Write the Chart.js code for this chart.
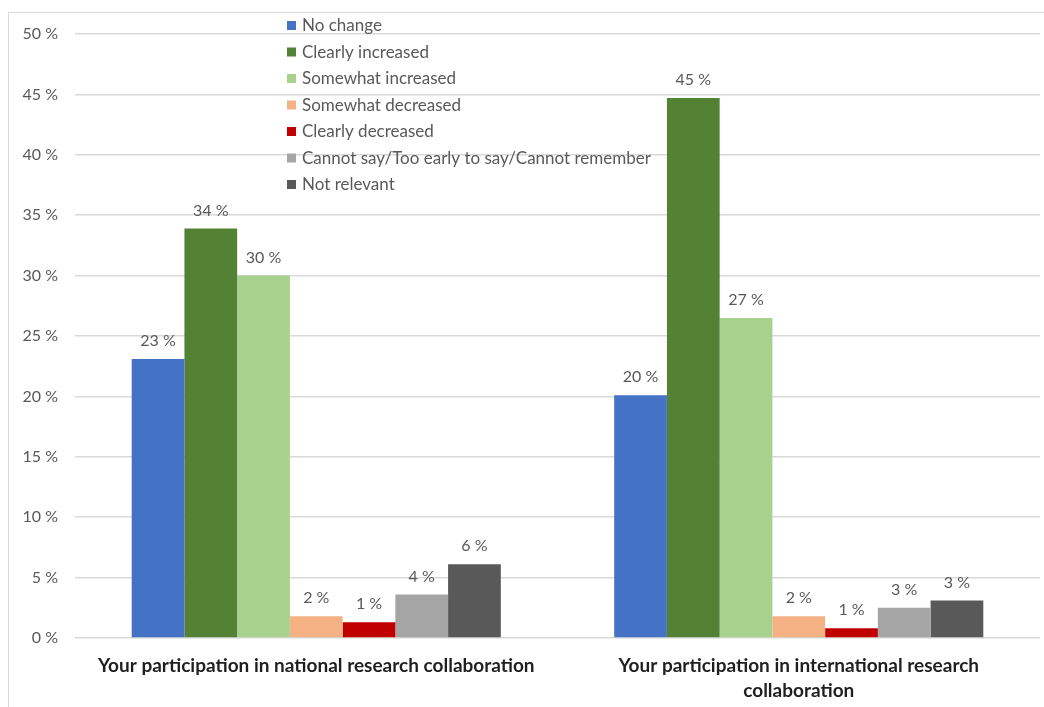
<!DOCTYPE html>
<html>
<head>
<meta charset="utf-8">
<script src="https://cdn.jsdelivr.net/npm/chart.js@4.4.1/dist/chart.umd.min.js"></script>
<style>
  html, body { margin: 0; padding: 0; background: #fff; }
  #wrap { width: 1044px; height: 707px; }
</style>
</head>
<body>
<div id="wrap"><canvas id="chart"></canvas></div>
<script>
var categories = [
  "Your participation in national research collaboration",
  ["Your participation in international research", "collaboration"]
];
var seriesNames = [
  "No change",
  "Clearly increased",
  "Somewhat increased",
  "Somewhat decreased",
  "Clearly decreased",
  "Cannot say/Too early to say/Cannot remember",
  "Not relevant"
];
var noChange = [23.1, 20.1];
var clearlyIncreased = [33.9, 44.7];
var somewhatIncreased = [30.0, 26.5];
var somewhatDecreased = [1.8, 1.8];
var clearlyDecreased = [1.3, 0.8];
var cannotSay = [3.6, 2.5];
var notRelevant = [6.1, 3.1];
var yTicks = [0, 5, 10, 15, 20, 25, 30, 35, 40, 45, 50];

var colors = ["#4472C4", "#548235", "#A9D18E", "#F4B183", "#C00000", "#A5A5A5", "#595959"];
var values = [noChange, clearlyIncreased, somewhatIncreased, somewhatDecreased, clearlyDecreased, cannotSay, notRelevant];

var FONT = "Lato, 'Open Sans', sans-serif";

// frame around the whole chart
var framePlugin = {
  id: "frame",
  beforeDraw: function (chart) {
    var ctx = chart.ctx;
    ctx.save();
    ctx.strokeStyle = "#d9d9d9";
    ctx.lineWidth = 1;
    ctx.strokeRect(8.5, 12.5, 1200, 800);
    ctx.restore();
  }
};

// value labels above bars
var labelPlugin = {
  id: "barLabels",
  afterDatasetsDraw: function (chart) {
    var ctx = chart.ctx;
    ctx.save();
    ctx.fillStyle = "#595959";
    ctx.font = "16px " + FONT;
    ctx.textAlign = "center";
    ctx.textBaseline = "bottom";
    chart.data.datasets.forEach(function (ds, i) {
      chart.getDatasetMeta(i).data.forEach(function (bar, j) {
        ctx.fillText(Math.round(ds.data[j]) + " %", bar.x, bar.y - 10);
      });
    });
    ctx.restore();
  }
};

// legend drawn inside the plot, top centre
var legendPlugin = {
  id: "insideLegend",
  afterDraw: function (chart) {
    var ctx = chart.ctx;
    ctx.save();
    ctx.font = "17px " + FONT;
    ctx.textBaseline = "middle";
    chart.data.datasets.forEach(function (ds, i) {
      var y = 26 + i * 26.5;
      ctx.fillStyle = ds.backgroundColor;
      ctx.fillRect(287, y - 5, 9, 9);
      ctx.fillStyle = "#595959";
      ctx.fillText(ds.label, 302, y);
    });
    ctx.restore();
  }
};

new Chart(document.getElementById("chart"), {
  type: "bar",
  data: {
    labels: categories,
    datasets: seriesNames.map(function (name, i) {
      return {
        label: name,
        data: values[i],
        backgroundColor: colors[i],
        borderWidth: 0,
        categoryPercentage: 0.765,
        barPercentage: 1
      };
    })
  },
  options: {
    responsive: true,
    maintainAspectRatio: false,
    animation: false,
    layout: { padding: { top: 34, right: 4, left: 0, bottom: 0 } },
    plugins: {
      legend: { display: false },
      tooltip: { enabled: false }
    },
    scales: {
      x: {
        grid: { display: false },
        border: { display: false },
        ticks: {
          color: "#1f1f1f",
          font: { family: FONT, size: 19, weight: "bold", lineHeight: 1.3 },
          padding: 8,
          maxRotation: 0,
          autoSkip: false
        },
        afterFit: function (scale) { scale.height = 69; }
      },
      y: {
        min: 0,
        max: 50,
        afterBuildTicks: function (scale) {
          scale.ticks = yTicks.map(function (v) { return { value: v }; });
        },
        grid: { color: "#d9d9d9", lineWidth: 1.5, tickLength: 0, drawTicks: false },
        border: { display: false },
        ticks: {
          color: "#595959",
          font: { family: FONT, size: 16 },
          padding: 17,
          callback: function (v) { return v + " %"; }
        },
        afterFit: function (scale) { scale.width = 75; }
      }
    }
  },
  plugins: [framePlugin, labelPlugin, legendPlugin]
});
</script>
</body>
</html>
